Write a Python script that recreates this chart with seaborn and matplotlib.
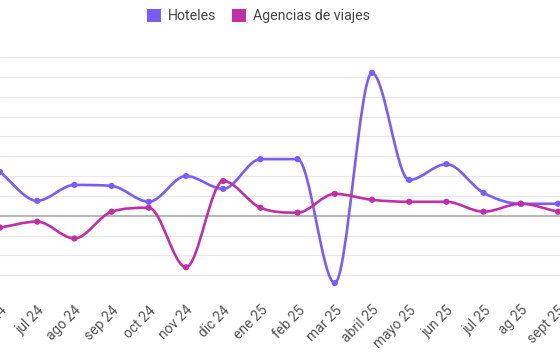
import numpy as np
import pandas as pd
import seaborn as sns
import matplotlib.pyplot as plt
from matplotlib.path import Path
from matplotlib.patches import PathPatch, Patch

# data
months = ["jun 24", "jul 24", "ago 24", "sep 24", "oct 24", "nov 24", "dic 24", "ene 25",
          "feb 25", "mar 25", "abril 25", "mayo 25", "jun 25", "jul 25", "ag 25", "sept 25"]
hoteles = [22, 7.5, 15.5, 15, 7, 20, 13.5, 28.5, 28.5, -34, 72, 18, 26, 11.5, 6, 6]
agencias = [-6, -3, -11.5, 2, 4, -26, 17.5, 4, 1.5, 11, 8, 7, 7, 2, 6, 2]

col_hot = "#7a5cfa"
col_age = "#c02fa6"

sns.set_theme(style="white")
plt.rcParams['font.family'] = ['Roboto', 'DejaVu Sans']

PX_PER_IDX = 37.2


def monotone_path(xs, ys):
    # monotone cubic (Fritsch-Carlson), same idea as chart.js "monotone"
    x = np.asarray(xs, float)
    y = np.asarray(ys, float)
    n = len(x)
    d = np.diff(y) / np.diff(x)
    m = np.zeros(n)
    m[0], m[-1] = d[0], d[-1]
    for i in range(1, n - 1):
        m[i] = 0 if d[i - 1] * d[i] <= 0 else (d[i - 1] + d[i]) / 2
    for i in range(n - 1):
        if d[i] == 0:
            m[i] = m[i + 1] = 0
            continue
        a, b = m[i] / d[i], m[i + 1] / d[i]
        s = a * a + b * b
        if s > 9:
            tau = 3 / np.sqrt(s)
            m[i] = tau * a * d[i]
            m[i + 1] = tau * b * d[i]
    verts = [(x[0], y[0])]
    codes = [Path.MOVETO]
    for i in range(n - 1):
        h = (x[i + 1] - x[i]) / 3
        verts += [(x[i] + h, y[i] + m[i] * h), (x[i + 1] - h, y[i + 1] - m[i + 1] * h), (x[i + 1], y[i + 1])]
        codes += [Path.CURVE4] * 3
    return Path(verts, codes)


df = pd.DataFrame({"idx": range(len(months)), "Hoteles": hoteles, "Agencias de viajes": agencias})

fig = plt.figure(figsize=(5.6, 3.64), dpi=100)
ax = fig.add_axes([0, 1 - 295 / 364, 1, (295 - 57) / 364])

for y in range(-40, 90, 10):
    ax.axhline(y, color="#aaaaaa" if y == 0 else "#e8e8e8", lw=1.2 if y == 0 else 0.8, zorder=0)

for name, c in [("Hoteles", col_hot), ("Agencias de viajes", col_age)]:
    ax.add_patch(PathPatch(monotone_path(df["idx"], df[name]), facecolor="none",
                           edgecolor=c, lw=1.9, zorder=2, capstyle="round"))
    sns.scatterplot(data=df, x="idx", y=name, color=c, s=20, edgecolor="none", ax=ax, zorder=3)

ax.set_xlim(0, 560 / PX_PER_IDX)
ax.set_ylim(-40, 80)
ax.set_xticks(range(len(months)))
ax.set_xticklabels(months, rotation=45, ha="right", rotation_mode="anchor",
                   fontsize=10, color="#555555")
ax.tick_params(axis="x", length=0, pad=6)
ax.set_yticks([])
ax.set_xlabel("")
ax.set_ylabel("")
for s in ax.spines.values():
    s.set_visible(False)

handles = [Patch(facecolor=col_hot, edgecolor="none"), Patch(facecolor=col_age, edgecolor="none")]
fig.legend(handles, ["Hoteles", "Agencias de viajes"], loc="center", bbox_to_anchor=(0.4616, 0.956),
           ncol=2, frameon=False, fontsize=10.2, handlelength=1.0, handleheight=1.0,
           handletextpad=0.5, columnspacing=1.05, labelcolor="#444444")

fig.savefig("out.png", dpi=100)
